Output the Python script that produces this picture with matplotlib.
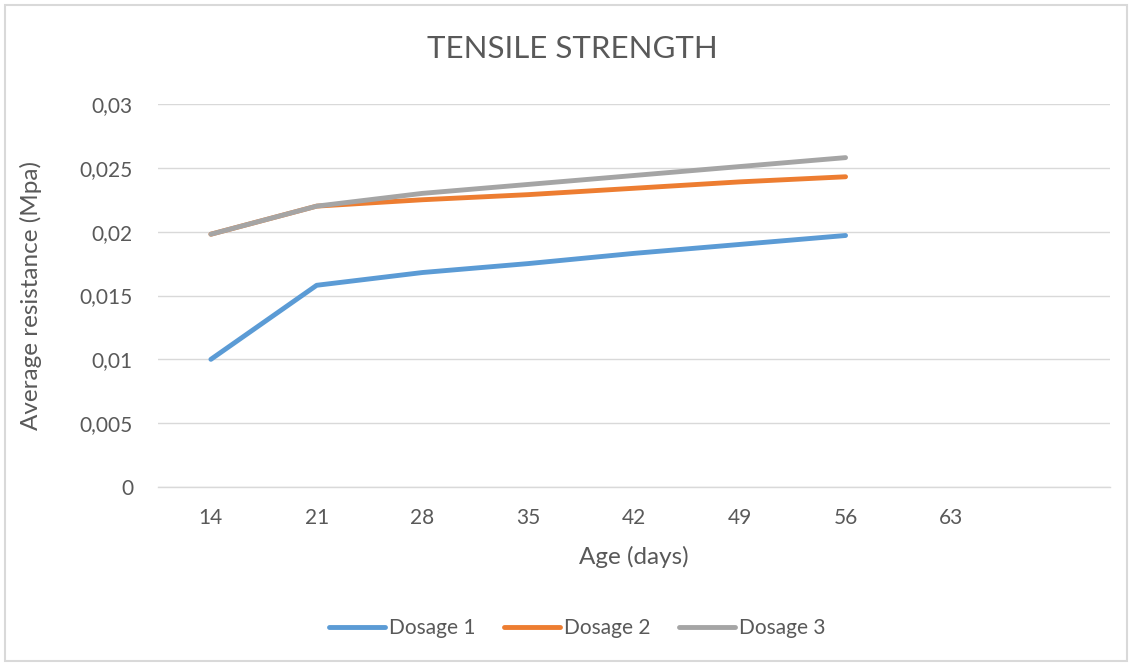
import matplotlib
matplotlib.use("Agg")
import matplotlib.pyplot as plt
from matplotlib.patches import Rectangle

categories = ["14", "21", "28", "35", "42", "49", "56", "63", ""]
dosage1 = [0.0100, 0.0158, 0.0168, 0.0175, 0.0183, 0.0190, 0.0197]
dosage2 = [0.0198, 0.0220, 0.0225, 0.0229, 0.0234, 0.0239, 0.0243]
dosage3 = [0.0198, 0.0220, 0.0230, 0.0237, 0.0244, 0.0251, 0.0258]
series_names = ["Dosage 1", "Dosage 2", "Dosage 3"]
y_ticks = [0, 0.005, 0.01, 0.015, 0.02, 0.025, 0.03]
y_tick_labels = ["0", "0,005", "0,01", "0,015", "0,02", "0,025", "0,03"]

colors = ["#5B9BD5", "#ED7D31", "#A5A5A5"]
text_color = "#595959"
grid_color = "#D9D9D9"

plt.rcParams['font.family'] = ['Lato', 'DejaVu Sans']

fig = plt.figure(figsize=(11.32, 6.66), dpi=100)
ax = fig.add_axes([158/1132, 1-487/666, (1110-158)/1132, (487-104)/666])

for data, name, c in zip([dosage1, dosage2, dosage3], series_names, colors):
    ax.plot(range(len(data)), data, color=c, lw=3.5, label=name,
            solid_capstyle='round', solid_joinstyle='round')

ax.set_xlim(-0.5, len(categories) - 0.5)
ax.set_ylim(0, 0.03)
ax.set_xticks(range(len(categories)))
ax.set_xticklabels(categories)
ax.set_yticks(y_ticks)
ax.set_yticklabels(y_tick_labels)
ax.tick_params(axis='both', length=0, labelsize=15, colors=text_color)
ax.tick_params(axis='x', pad=15)
ax.tick_params(axis='y', pad=18)
ax.yaxis.grid(True, color=grid_color, lw=1)
ax.set_axisbelow(True)
for s in ['top', 'right', 'left']:
    ax.spines[s].set_visible(False)
ax.spines['bottom'].set_color(grid_color)
ax.spines['bottom'].set_linewidth(1)

ax.set_xlabel("Age (days)", fontsize=17.5, color=text_color)
ax.xaxis.set_label_coords((634-158)/(1110-158), -(546-487)/(487-104))
ax.set_ylabel("Average resistance (Mpa)", fontsize=17.5, color=text_color)
ax.yaxis.set_label_coords(-(158-42)/(1110-158), (487-296)/(487-104))
fig.text(572/1132, 1-49/666, "TENSILE STRENGTH", fontsize=22.5, color=text_color,
         ha='center', va='center')

leg = fig.legend(loc='center', bbox_to_anchor=(577/1132, 1-628/666), ncol=3, frameon=False,
                 fontsize=15, handlelength=2.7, handletextpad=0.2, columnspacing=1.35)
for t in leg.get_texts():
    t.set_color(text_color)

fig.patches.append(Rectangle((5/1132, 5/666), 1-10/1132, 1-10/666, transform=fig.transFigure,
                             fill=False, edgecolor=grid_color, lw=1.5))

fig.savefig("out.png", dpi=100, facecolor='white')
